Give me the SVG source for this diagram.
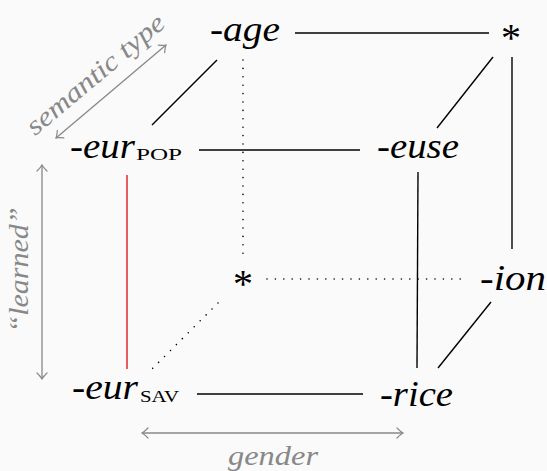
<svg xmlns="http://www.w3.org/2000/svg" width="547" height="471" viewBox="0 0 547 471">
<defs>
<style>
.m{font-family:"Liberation Serif","DejaVu Serif",serif;font-style:italic;font-size:35px;fill:#000}
.up{font-style:normal}
.sub{font-family:"Liberation Serif","DejaVu Serif",serif;font-size:17px;fill:#000}
.ast{font-family:"Liberation Serif","DejaVu Serif",serif;font-size:40px;fill:#000}
.lbl{font-family:"Liberation Serif","DejaVu Serif",serif;font-style:italic;font-size:27px;fill:#888}
.e{stroke:#000;stroke-width:1.4;fill:none}
.red{stroke:#e8333a;stroke-width:1.6;fill:none}
.dot{stroke:#000;stroke-width:1.6;fill:none;stroke-dasharray:0 8.4;stroke-linecap:round}
.ar{stroke:#888;stroke-width:1.3;fill:none;marker-start:url(#ah);marker-end:url(#ah)}
</style>
<marker id="ah" viewBox="-10 -6 12 12" markerWidth="12" markerHeight="12" refX="0" refY="0" orient="auto-start-reverse" markerUnits="userSpaceOnUse">
<path d="M -6 -5 Q -2 -1 0 0 Q -2 1 -6 5" stroke="#888" stroke-width="1.2" fill="none" stroke-linecap="round"/>
</marker>
</defs>
<rect width="547" height="471" fill="#fafafa"/>
<g id="connectors">
<line class="e" x1="295" y1="33" x2="489" y2="33"/>
<line class="e" x1="217" y1="60" x2="152" y2="125"/>
<line class="e" x1="199" y1="150" x2="360" y2="150"/>
<line class="e" x1="493" y1="57" x2="437" y2="128"/>
<line class="e" x1="512" y1="57" x2="512" y2="249"/>
<line class="e" x1="418" y1="172" x2="417" y2="368"/>
<line class="red" x1="127" y1="175" x2="127" y2="369"/>
<line class="e" x1="197" y1="394" x2="363" y2="394"/>
<line class="e" x1="438" y1="368" x2="491" y2="302"/>
<line class="dot" x1="243" y1="60" x2="243" y2="255"/>
<line class="dot" x1="267" y1="279" x2="462" y2="279"/>
<line class="dot" x1="218" y1="303" x2="152" y2="369"/>
</g>
<g id="axes">
<line class="ar" x1="56" y1="138" x2="166" y2="45"/>
<line class="ar" x1="42" y1="165" x2="42" y2="379"/>
<line class="ar" x1="142" y1="433" x2="403" y2="433"/>
<text class="lbl" transform="translate(101 81) rotate(-40)" text-anchor="middle" textLength="172" lengthAdjust="spacingAndGlyphs">semantic type</text>
<text class="lbl" transform="translate(28 270) rotate(-90)" text-anchor="middle" textLength="125" lengthAdjust="spacingAndGlyphs">“learned”</text>
<text class="lbl" x="228" y="465" textLength="90" lengthAdjust="spacingAndGlyphs">gender</text>
</g>
<g id="n-age"><text class="m" x="210" y="41" textLength="70" lengthAdjust="spacingAndGlyphs"><tspan class="up">-</tspan>age</text></g>
<g id="n-star-top"><text class="ast" x="511" y="51" text-anchor="middle">*</text></g>
<g id="n-eurpop"><text class="m" x="70" y="158" textLength="65" lengthAdjust="spacingAndGlyphs"><tspan class="up">-</tspan>eur</text><text class="sub" x="136" y="160" textLength="46" lengthAdjust="spacingAndGlyphs">POP</text></g>
<g id="n-euse"><text class="m" x="377" y="158" textLength="82" lengthAdjust="spacingAndGlyphs"><tspan class="up">-</tspan>euse</text></g>
<g id="n-star-mid"><text class="ast" x="243" y="297" text-anchor="middle">*</text></g>
<g id="n-ion"><text class="m" x="480" y="290" textLength="66" lengthAdjust="spacingAndGlyphs"><tspan class="up">-</tspan>ion</text></g>
<g id="n-eursav"><text class="m" x="72" y="399" textLength="66" lengthAdjust="spacingAndGlyphs"><tspan class="up">-</tspan>eur</text><text class="sub" x="140" y="402" textLength="39" lengthAdjust="spacingAndGlyphs">SAV</text></g>
<g id="n-rice"><text class="m" x="380" y="406" textLength="73" lengthAdjust="spacingAndGlyphs"><tspan class="up">-</tspan>rice</text></g>
</svg>
